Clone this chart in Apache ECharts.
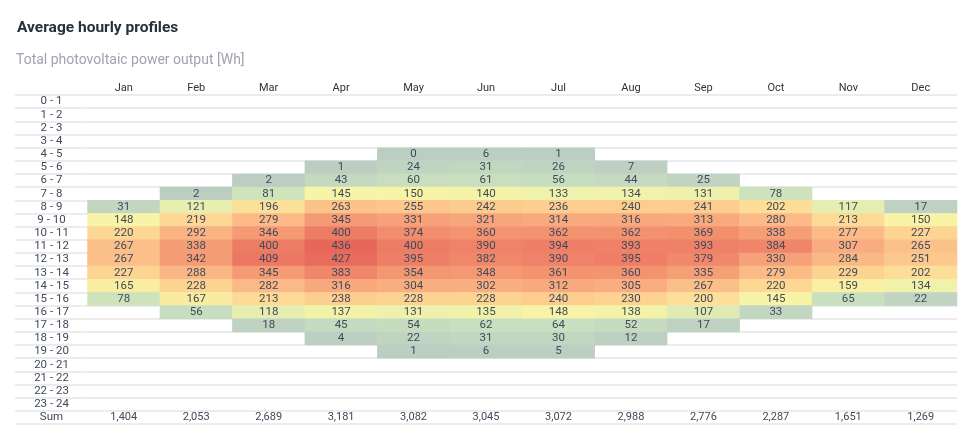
<!DOCTYPE html>
<html>
<head>
<meta charset="utf-8">
<script src="https://cdn.jsdelivr.net/npm/echarts@6/dist/echarts.min.js"></script>
<style>
html,body{margin:0;padding:0;background:#fff;}
#main{width:966px;height:439px;}
</style>
</head>
<body>
<div id="main"></div>
<script>
const months = ['Jan','Feb','Mar','Apr','May','Jun','Jul','Aug','Sep','Oct','Nov','Dec'];
const hourLabels = ['0 - 1','1 - 2','2 - 3','3 - 4','4 - 5','5 - 6','6 - 7','7 - 8','8 - 9','9 - 10','10 - 11','11 - 12','12 - 13','13 - 14','14 - 15','15 - 16','16 - 17','17 - 18','18 - 19','19 - 20','20 - 21','21 - 22','22 - 23','23 - 24'];
const rowLabels = hourLabels.concat(['Sum']);
// first producing hour for each month
const startHour = [8, 7, 6, 5, 4, 4, 4, 5, 6, 7, 8, 8];
const janVals = [31, 148, 220, 267, 267, 227, 165, 78];
const febVals = [2, 121, 219, 292, 338, 342, 288, 228, 167, 56];
const marVals = [2, 81, 196, 279, 346, 400, 409, 345, 282, 213, 118, 18];
const aprVals = [1, 43, 145, 263, 345, 400, 436, 427, 383, 316, 238, 137, 45, 4];
const mayVals = [0, 24, 60, 150, 255, 331, 374, 400, 395, 354, 304, 228, 131, 54, 22, 1];
const junVals = [6, 31, 61, 140, 242, 321, 360, 390, 382, 348, 302, 228, 135, 62, 31, 6];
const julVals = [1, 26, 56, 133, 236, 314, 362, 394, 390, 361, 312, 240, 148, 64, 30, 5];
const augVals = [7, 44, 134, 240, 316, 362, 393, 395, 360, 305, 230, 138, 52, 12];
const sepVals = [25, 131, 241, 313, 369, 393, 379, 335, 267, 200, 107, 17];
const octVals = [78, 202, 280, 338, 384, 330, 279, 220, 145, 33];
const novVals = [117, 213, 277, 307, 284, 229, 159, 65];
const decVals = [17, 150, 227, 265, 251, 202, 134, 22];
const sums = [1404, 2053, 2689, 3181, 3082, 3045, 3072, 2988, 2776, 2287, 1651, 1269];

const monthVals = [janVals, febVals, marVals, aprVals, mayVals, junVals, julVals, augVals, sepVals, octVals, novVals, decVals];
const heatData = [];
monthVals.forEach((vals, m) => {
  vals.forEach((v, i) => heatData.push([m, startHour[m] + i, v]));
});
const sumData = sums.map((v, m) => [m, 24, v]);

const lineColor = '#ececec';
const textColor = '#3f4a5a';

const chart = echarts.init(document.getElementById('main'));
chart.setOption({
  animation: false,
  backgroundColor: '#fff',
  title: [
    { text: 'Average hourly profiles', left: 12, top: 15,
      textStyle: { fontFamily: 'Roboto', fontSize: 15.5, fontWeight: 'bold', color: '#27303d' } },
    { text: 'Total photovoltaic power output [Wh]', left: 11, top: 48,
      textStyle: { fontFamily: 'Roboto', fontSize: 14, fontWeight: 'normal', color: '#9ea3ad' } }
  ],
  grid: { left: 87.5, right: 9, top: 95, bottom: 15 },
  xAxis: {
    type: 'category', data: months, position: 'top',
    axisLine: { show: false }, axisTick: { show: false }, splitLine: { show: false },
    axisLabel: { fontFamily: 'Roboto', fontSize: 11, color: '#333', margin: 1 }
  },
  yAxis: {
    type: 'category', data: rowLabels, inverse: true,
    axisLine: { show: false },
    axisTick: { show: true, interval: 0, length: 72.5, lineStyle: { color: lineColor, width: 2 } },
    splitLine: { show: true, interval: 0, lineStyle: { color: lineColor, width: 2 } },
    axisLabel: { interval: 0, fontFamily: 'Roboto', fontSize: 11.5, color: textColor, align: 'center', margin: 36 }
  },
  visualMap: {
    show: false, type: 'continuous', min: 0, max: 440, seriesIndex: 0,
    inRange: { color: ['#bccdc2', '#cbe2be', '#f8f4a6', '#fdd794', '#fab383', '#f2906e', '#e7655a'] }
  },
  series: [
    {
      type: 'heatmap', data: heatData,
      label: { show: true, fontFamily: 'Roboto', fontSize: 11.5, color: textColor },
      itemStyle: { borderWidth: 0 },
      emphasis: { disabled: true }
    },
    {
      type: 'heatmap', data: sumData,
      itemStyle: { color: 'rgba(0,0,0,0)' },
      label: { show: true, fontFamily: 'Roboto', fontSize: 11, color: textColor,
        formatter: p => p.value[2].toLocaleString('en-US') },
      emphasis: { disabled: true }
    }
  ]
});
</script>
</body>
</html>
